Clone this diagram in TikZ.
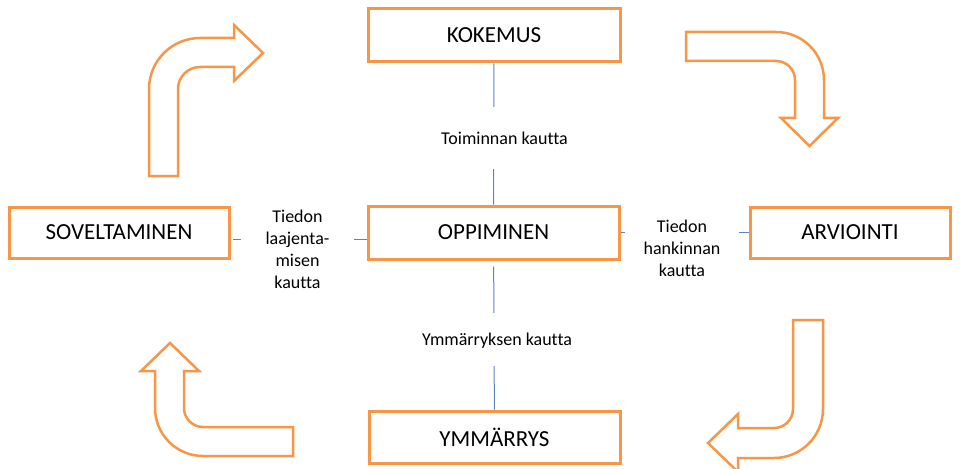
\documentclass[tikz,border=0pt]{standalone}
\usepackage{fontspec}
\setmainfont{Carlito}[Ligatures=NoCommon]
\usetikzlibrary{positioning}
\definecolor{boxorange}{HTML}{F79646}
\definecolor{linkblue}{HTML}{5B83C8}

\begin{document}
\begin{tikzpicture}[
    x=1pt, y=1pt,
    font=\rmfamily,
    stage/.style={draw=boxorange, fill=white, text=black, line width=3pt,
                  minimum width=252pt, minimum height=53pt, align=center,
                  inner sep=2pt, font=\rmfamily\fontsize{23}{27}\selectfont},
    lbl/.style={fill=white, text=black, align=center, inner sep=0pt,
                text depth=0pt, font=\rmfamily\fontsize{18}{22}\selectfont},
    link/.style={draw=linkblue, line width=1pt},
    bentarrow/.style={draw=boxorange, fill=white, line width=2.5pt, line join=miter},
  ]
  \useasboundingbox (0,0) rectangle (960,-468);
  \clip (0,0) rectangle (960,-468);

  % The five stages of the cycle.
  \node[stage] (kok) at (494,-35.5) {KOKEMUS};
  \node[stage, minimum width=251pt] (opp) at (493.5,-232.5) {OPPIMINEN};
  \node[stage, minimum width=220pt, minimum height=51pt] (sov) at (119,-232.5) {SOVELTAMINEN};
  \node[stage, minimum width=200pt, minimum height=51pt] (arv) at (850,-232.5) {ARVIOINTI};
  \node[stage, minimum width=251pt, minimum height=52pt] (ymm) at (494.5,-437) {YMMÄRRYS};

  % Thin links, broken by their labels.
  \draw[link] (kok) -- (opp);
  \draw[link, shorten <=6pt] (opp) -- (ymm);
  \draw[link, shorten <=2pt] ([yshift=-6.5pt]sov.east) -- ([yshift=-6.5pt]opp.west);
  \draw[link] (opp.east) -- (arv.west);

  \node[lbl, minimum height=61pt] (lblT) at (504.5,-138) {Toiminnan kautta};
  \node[lbl, minimum height=53pt] (lblB) at (497,-339) {Ymmärryksen kautta};
  \node[lbl, minimum width=113pt] (lblL) at (297.5,-248.75) {Tiedon\\laajenta-\\misen\\kautta};
  \node[lbl, minimum width=114pt] (lblR) at (682,-247.75) {Tiedon\\hankinnan\\kautta};

  % Bent block arrows round the cycle.
  \draw[bentarrow] (149,-176) -- (149,-89) arc[start angle=180, end angle=90, radius=51]
    -- (234,-38) -- (234,-25) -- (263,-53) -- (234,-81) -- (234,-67)
    -- (200,-67) arc[start angle=90, end angle=180, radius=22] -- (178,-176) -- cycle;
  \draw[bentarrow] (686,-32) -- (776,-32) arc[start angle=90, end angle=0, radius=48]
    -- (824,-118) -- (838,-118) -- (809.5,-146) -- (781,-118) -- (795,-118)
    -- (795,-80) arc[start angle=0, end angle=90, radius=19] -- (686,-61) -- cycle;
  \draw[bentarrow] (793,-320) -- (823,-320) -- (823,-409) arc[start angle=0, end angle=-90, radius=49]
    -- (738,-458) -- (738,-472) -- (708,-443) -- (738,-414) -- (738,-428)
    -- (774,-428) arc[start angle=-90, end angle=0, radius=19] -- cycle;
  \draw[bentarrow] (170,-343) -- (199,-371) -- (184,-371) -- (184,-408)
    arc[start angle=180, end angle=270, radius=19] -- (293,-427) -- (293,-456)
    -- (203,-456) arc[start angle=270, end angle=180, radius=48]
    -- (155,-371) -- (141,-371) -- cycle;
\end{tikzpicture}
\end{document}
